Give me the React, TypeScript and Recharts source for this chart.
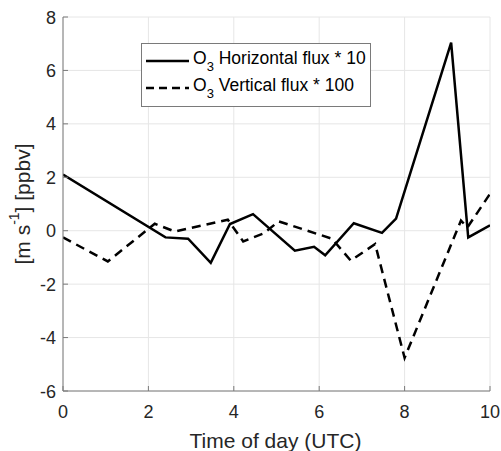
import React from 'react';
import {
  LineChart, Line, XAxis, YAxis, CartesianGrid, Legend, Label,
} from 'recharts';

// hours (UTC) and scaled O3 fluxes
const hoursHoriz = [0, 2.4, 2.93, 3.46, 3.91, 4.45, 5.43, 5.88, 6.14, 6.81, 7.47, 7.8, 9.09, 9.49, 10];
const fluxHoriz = [2.1, -0.25, -0.3, -1.2, 0.25, 0.62, -0.75, -0.6, -0.92, 0.28, -0.08, 0.45, 7.04, -0.25, 0.2];

const hoursVert = [0, 1.05, 2.15, 2.62, 3.86, 4.22, 4.7, 5.05, 6.3, 6.74, 7.31, 8.0, 9.32, 9.47, 10];
const fluxVert = [-0.25, -1.15, 0.26, -0.03, 0.41, -0.4, -0.1, 0.35, -0.3, -1.12, -0.5, -4.76, 0.38, 0.12, 1.38];

const xTicks = [0, 2, 4, 6, 8, 10];
const yTicks = [-6, -4, -2, 0, 2, 4, 6, 8];

const horizontal = hoursHoriz.map((t, i) => ({ t, v: fluxHoriz[i] }));
const vertical = hoursVert.map((t, i) => ({ t, v: fluxVert[i] }));

const FONT = '"Liberation Sans", Arial, sans-serif';
const TEXT = '#262626';
const AXIS = '#7a7a7a';
const TICK_LEN = 5;

const BottomTick = ({ x, y, payload }: any) => (
  <g>
    <line x1={x} x2={x} y1={y} y2={y - TICK_LEN} stroke={AXIS} />
    <text x={x} y={y + 27} textAnchor="middle" fontSize={18} fill={TEXT} fontFamily={FONT}>
      {payload.value}
    </text>
  </g>
);

const TopTick = ({ x, y }: any) => (
  <line x1={x} x2={x} y1={y} y2={y + TICK_LEN} stroke={AXIS} />
);

const LeftTick = ({ x, y, payload }: any) => (
  <g>
    <line x1={x} x2={x + TICK_LEN} y1={y} y2={y} stroke={AXIS} />
    <text x={x - 7} y={y + 6.5} textAnchor="end" fontSize={18} fill={TEXT} fontFamily={FONT}>
      {payload.value}
    </text>
  </g>
);

const RightTick = ({ x, y }: any) => (
  <line x1={x} x2={x - TICK_LEN} y1={y} y2={y} stroke={AXIS} />
);

const XTitle = ({ viewBox }: any) => (
  <text
    x={viewBox.x + viewBox.width / 2 - 1}
    y={viewBox.y + 57}
    textAnchor="middle"
    fontSize={21}
    fill={TEXT}
    fontFamily={FONT}
  >
    Time of day (UTC)
  </text>
);

const YTitle = ({ viewBox }: any) => {
  const cx = 22;
  const cy = viewBox.y + viewBox.height / 2;
  return (
    <text
      x={cx}
      y={cy}
      transform={`rotate(-90, ${cx}, ${cy})`}
      textAnchor="middle"
      dominantBaseline="central"
      fontSize={21}
      fill={TEXT}
      fontFamily={FONT}
    >
      [m s<tspan dy={-8} fontSize={14}>-1</tspan><tspan dy={8}>] [ppbv]</tspan>
    </text>
  );
};

const legendRows = [
  { label: 'Horizontal flux * 10', dash: undefined },
  { label: 'Vertical flux * 100', dash: '8 5' },
];

const FluxLegend = () => (
  <div
    style={{
      width: 230, height: 64, boxSizing: 'border-box', border: `1px solid ${AXIS}`,
      background: '#fff', fontFamily: FONT, fontSize: 17.5, color: '#000', paddingTop: 3,
    }}
  >
    {legendRows.map((r) => (
      <div key={r.label} style={{ display: 'flex', alignItems: 'center', height: 27 }}>
        <svg width={48} height={10} style={{ marginLeft: 3 }}>
          <line x1={1} x2={44} y1={5} y2={5} stroke="#000" strokeWidth={2.5} strokeDasharray={r.dash} />
        </svg>
        <span style={{ whiteSpace: 'nowrap' }}>
          O<sub style={{ fontSize: 13, verticalAlign: -7 }}>3</sub> {r.label}
        </span>
      </div>
    ))}
  </div>
);

export default function App() {
  return (
    <div style={{ position: 'absolute', left: 0, top: 0, width: 501, height: 451, background: '#fff' }}>
      <LineChart width={501} height={451} margin={{ top: 17, right: 11, bottom: 0, left: 0 }}>
        <CartesianGrid xAxisId="bottom" yAxisId="left" stroke="#e6e6e6" />
        <XAxis
          xAxisId="bottom" dataKey="t" type="number" domain={[0, 10]} ticks={xTicks} interval={0}
          height={60} tickSize={0} tickMargin={0} tick={<BottomTick />}
          axisLine={{ stroke: AXIS }} allowDataOverflow
        >
          <Label content={<XTitle />} />
        </XAxis>
        <XAxis
          xAxisId="top" orientation="top" dataKey="t" type="number" domain={[0, 10]} ticks={xTicks} interval={0}
          height={0} tickSize={0} tickMargin={0} tick={<TopTick />} axisLine={{ stroke: AXIS }}
        />
        <YAxis
          yAxisId="left" type="number" domain={[-6, 8]} ticks={yTicks} interval={0}
          width={63} tickSize={0} tickMargin={0} tick={<LeftTick />} axisLine={{ stroke: AXIS }}
          allowDataOverflow
        >
          <Label content={<YTitle />} />
        </YAxis>
        <YAxis
          yAxisId="right" orientation="right" type="number" domain={[-6, 8]} ticks={yTicks} interval={0}
          width={0} tickSize={0} tickMargin={0} tick={<RightTick />} axisLine={{ stroke: AXIS }}
        />
        <Legend
          layout="vertical" align="center" verticalAlign="middle"
          wrapperStyle={{ left: 141, top: 43, width: 230, height: 64 }}
          content={<FluxLegend />}
        />
        <Line
          data={horizontal} dataKey="v" xAxisId="bottom" yAxisId="left" type="linear"
          stroke="#000" strokeWidth={2.5} dot={false} isAnimationActive={false}
        />
        <Line
          data={vertical} dataKey="v" xAxisId="bottom" yAxisId="left" type="linear"
          stroke="#000" strokeWidth={2.5} strokeDasharray="9 6" dot={false} isAnimationActive={false}
        />
      </LineChart>
    </div>
  );
}
